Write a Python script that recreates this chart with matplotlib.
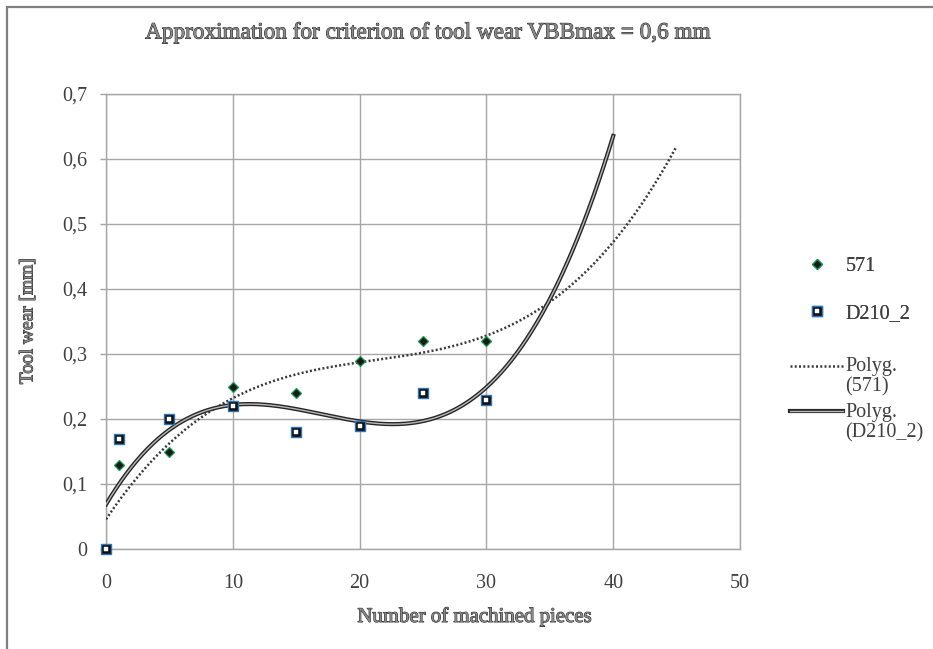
import numpy as np
import matplotlib
matplotlib.use("Agg")
import matplotlib.pyplot as plt
import matplotlib.patheffects as pe
from matplotlib.legend_handler import HandlerLine2D, HandlerTuple
from matplotlib.patches import Rectangle

# ---- data ----
x_571 = [0, 1, 5, 10, 15, 20, 25, 30]
y_571 = [0.0, 0.13, 0.15, 0.25, 0.24, 0.29, 0.32, 0.32]
x_d210 = [0, 1, 5, 10, 15, 20, 25, 30]
y_d210 = [0.0, 0.17, 0.20, 0.22, 0.18, 0.19, 0.24, 0.23]
trend_end_571 = 45
trend_end_d210 = 40
poly_order = 3
x_ticks = [0, 10, 20, 30, 40, 50]
y_ticks = [0, 0.1, 0.2, 0.3, 0.4, 0.5, 0.6, 0.7]
y_tick_labels = ["0", "0,1", "0,2", "0,3", "0,4", "0,5", "0,6", "0,7"]
title = "Approximation for criterion of tool wear VBBmax = 0,6 mm"
xlabel = "Number of machined pieces"
ylabel = "Tool wear [mm]"
labels = ["571", "D210_2", "Polyg.\n(571)", "Polyg.\n(D210_2)"]

plt.rcParams["font.family"] = ["Liberation Serif", "DejaVu Serif"]

W, H = 933, 649
fig = plt.figure(figsize=(W / 100, H / 100), dpi=100)
ax = fig.add_axes([106 / W, 1 - 549 / H, (740 - 106) / W, (549 - 94) / H])

grid_c = "#a6a6a6"
txt_c = "#404040"
fs = 14.5

# trendlines (polynomial fits of the data)
c571 = np.polyfit(x_571, y_571, poly_order)
cd210 = np.polyfit(x_d210, y_d210, poly_order)
xs1 = np.linspace(0, trend_end_571, 300)
xs2 = np.linspace(0, trend_end_d210, 300)

ln_t1, = ax.plot(xs1, np.polyval(c571, xs1), color="#3a3a3a", lw=1.8,
                 linestyle=(0, (0.8, 0.9)), zorder=3)
ln_t2, = ax.plot(xs2, np.polyval(cd210, xs2), color="#b8b8b8", lw=1.0, zorder=3,
                 path_effects=[pe.Stroke(linewidth=3.0, foreground="#262626"), pe.Normal()])

# data points
m1, = ax.plot(x_571, y_571, linestyle="none", marker="D", markersize=5,
              markerfacecolor="#1a1a1a", markeredgecolor="#169a4c",
              markeredgewidth=0.9, zorder=5, clip_on=False)
m2a, = ax.plot(x_d210, y_d210, linestyle="none", marker="s", markersize=6.5,
               markerfacecolor="#111111", markeredgecolor="#2e75b6",
               markeredgewidth=1.0, zorder=6, clip_on=False)
m2b, = ax.plot(x_d210, y_d210, linestyle="none", marker="s", markersize=2.3,
               markerfacecolor="white", markeredgecolor="white",
               markeredgewidth=0.3, zorder=7, clip_on=False)

ax.set_xlim(x_ticks[0], x_ticks[-1])
ax.set_ylim(y_ticks[0], y_ticks[-1])
ax.set_xticks(x_ticks)
ax.set_xticklabels([str(v) for v in x_ticks])
ax.set_yticks(y_ticks)
ax.set_yticklabels(y_tick_labels)
ax.grid(True, color=grid_c, lw=1.0)
ax.set_axisbelow(True)
for s in ax.spines.values():
    s.set_color(grid_c)
    s.set_linewidth(1.0)
ax.tick_params(axis="y", length=4.5, width=1.0, color=grid_c, pad=9,
               labelsize=fs, labelcolor=txt_c)
ax.tick_params(axis="x", length=0, pad=18, labelsize=fs, labelcolor=txt_c)

eff = [pe.withStroke(linewidth=0.7, foreground="#1e1e1e")]
fig.text(427 / W, 1 - 33 / H, title, ha="center", va="center", fontsize=16.7,
         color="#8a8a8a", path_effects=eff)
fig.text(475 / W, 1 - 617 / H, xlabel, ha="center", va="center", fontsize=15,
         color="#8a8a8a", path_effects=eff)
fig.text(28 / W, 1 - 321 / H, ylabel, ha="center", va="center", fontsize=14,
         color="#8a8a8a", rotation=90, path_effects=eff)


class TopAlignedLine(HandlerLine2D):
    def __init__(self, shift, **kw):
        super().__init__(**kw)
        self.shift = shift

    def create_artists(self, legend, orig_handle, xdescent, ydescent, width,
                       height, fontsize, trans):
        arts = super().create_artists(legend, orig_handle, xdescent, ydescent,
                                      width, height, fontsize, trans)
        for a in arts:
            a.set_ydata(np.asarray(a.get_ydata()) + self.shift)
        return arts


leg1 = fig.legend([m1, (m2a, m2b)], labels[:2], loc="upper left",
                  bbox_to_anchor=(790 / W, 1 - 257 / H), frameon=False,
                  fontsize=fs, handlelength=2.65, handletextpad=0.1,
                  labelspacing=1.4, borderpad=0, borderaxespad=0,
                  handler_map={tuple: HandlerTuple(ndivide=1)})
for t in leg1.get_texts():
    t.set_color(txt_c)

leg2 = fig.legend([ln_t1, ln_t2], labels[2:], loc="upper left",
                  bbox_to_anchor=(790 / W, 1 - 357 / H), frameon=False,
                  fontsize=fs, handlelength=2.65, handletextpad=0.1,
                  labelspacing=0.3, borderpad=0, borderaxespad=0,
                  handler_map={ln_t1: TopAlignedLine(8.0), ln_t2: TopAlignedLine(8.0)})
for t in leg2.get_texts():
    t.set_color(txt_c)
    t.set_linespacing(1.1)
fig.add_artist(leg1)

# outer chart border (only top and left visible)
fig.add_artist(Rectangle((7 / W, -0.1), 1.2, 1.1 - 7 / H, transform=fig.transFigure,
                         fill=False, edgecolor="#7f7f7f", lw=1.6))

fig.savefig("out.png", dpi=100, facecolor="white")
